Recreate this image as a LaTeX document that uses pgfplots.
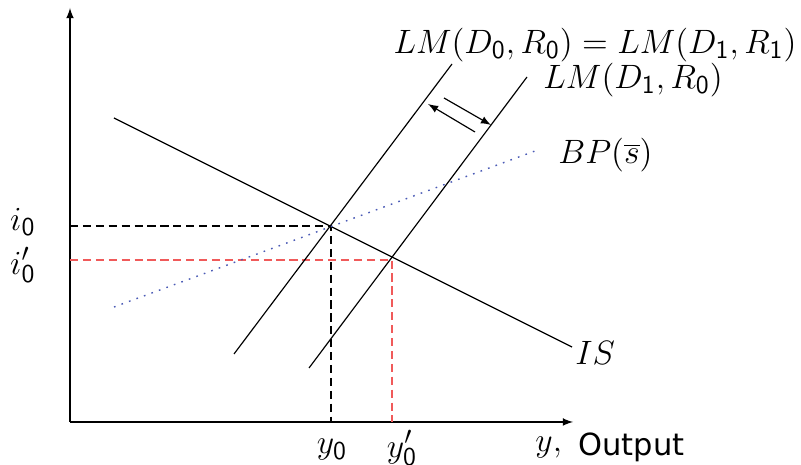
\documentclass[border=0pt]{standalone}
\usepackage[no-math]{fontspec}
\setsansfont{DejaVu Sans}
\usepackage{pgfplots}
\pgfplotsset{compat=1.18}
\DeclareMathSizes{13.5}{13.5}{11}{8}
\definecolor{bpblue}{HTML}{4A5AB5}
\definecolor{lred}{HTML}{F05A5A}
\begin{document}
\fontsize{13.5}{16}\selectfont
\begin{tikzpicture}
\begin{axis}[
  width=12cm, height=6.966cm, scale only axis,
  xmin=0, xmax=801, ymin=0, ymax=465,
  hide axis, clip=false,
]
\coordinate (SW) at (rel axis cs:0,0);
\coordinate (NE) at (rel axis cs:1,1);
% axes
\addplot[black, line width=0.5pt, -latex] coordinates {(70,43) (70,457)};
\addplot[black, line width=0.5pt, -latex] coordinates {(70,43) (573,43)};
% guide lines
\addplot[black, line width=0.5pt, dash pattern=on 3.5pt off 2pt] coordinates {(70,239) (331,239) (331,43)};
\addplot[lred, line width=0.5pt, dash pattern=on 3.5pt off 2pt] coordinates {(70,205) (392,205) (392,43)};
% curves
\addplot[black, line width=0.5pt] coordinates {(114,347) (572,118)};
\addplot[black, line width=0.5pt] coordinates {(234,111) (452,401)};
\addplot[black, line width=0.5pt] coordinates {(309,97) (527,388)};
\addplot[bpblue, line width=0.6pt, dash pattern=on 0.7pt off 2.7pt] coordinates {(114,158) (535,314)};
% shift arrows
\addplot[black, line width=0.5pt, -latex] coordinates {(475,333) (428,361)};
\addplot[black, line width=0.5pt, -latex] coordinates {(444,367) (491,340)};
% labels
\node[inner sep=0pt] at (axis cs:595,420) {$LM(D_{\mathsf{0}},R_{\mathsf{0}})=LM(D_{\mathsf{1}},R_{\mathsf{1}})$};
\node[anchor=west, inner sep=0pt] at (axis cs:543,385) {$LM(D_{\mathsf{1}},R_{\mathsf{0}})$};
\node[anchor=west, inner sep=0pt] at (axis cs:558,310) {$BP(\overline{s})$};
\node[anchor=west, inner sep=0pt] at (axis cs:575,112) {$IS$};
\node[anchor=east, inner sep=0pt] at (axis cs:36,243) {$i_{\mathsf{0}}$};
\node[anchor=east, inner sep=0pt] at (axis cs:36,200) {$i'_{\mathsf{0}}$};
\node[inner sep=0pt] at (axis cs:332,15) {$y_{\mathsf{0}}$};
\node[inner sep=0pt] at (axis cs:402,17) {$y'_{\mathsf{0}}$};
\node[anchor=west, inner sep=0pt] at (axis cs:535,17) {$y,$};
\node[anchor=west, inner sep=0pt] at (axis cs:578,18) {\fontsize{13}{15}\selectfont\textsf{Output}};
\end{axis}
\pgfresetboundingbox
\path[use as bounding box] (SW) rectangle (NE);
\end{tikzpicture}
\end{document}
